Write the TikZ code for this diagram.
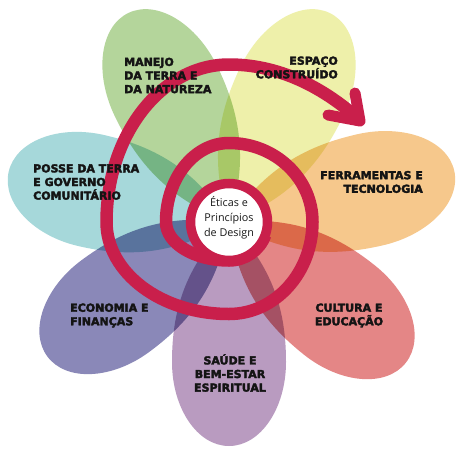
\documentclass[tikz,border=0pt]{standalone}
\usepackage{fontspec}
\setmainfont{DejaVu Sans}
\newfontfamily\lblfont{DejaVu Sans}[UprightFont={* Bold}, UprightFeatures={FakeBold=3}]
\newfontfamily\ctrfont{Open Sans}
\definecolor{pGreen}{HTML}{B4D59B}
\definecolor{pYellow}{HTML}{EEF0AA}
\definecolor{pOrange}{HTML}{F6C88C}
\definecolor{pRed}{HTML}{E48686}
\definecolor{pPurple}{HTML}{B99BC0}
\definecolor{pBlue}{HTML}{8A88B8}
\definecolor{pTeal}{HTML}{A6D8DA}
\definecolor{spiralRed}{HTML}{C91F4B}
\tikzset{
  lbl/.style={font=\lblfont\fontsize{11}{13.6}\selectfont, text=black!92, inner sep=0pt},
  ctrtext/.style={font=\ctrfont\fontsize{10.8}{15}\selectfont, text=black!90, inner sep=0pt, align=center},
  spiralline/.style={draw=spiralRed, line width=12.5pt},
  arrowhd/.style={draw=spiralRed, line width=11pt, line cap=round, line join=round},
  centerring/.style={draw=spiralRed, fill=white, line width=9.5pt}
}
% colour, screen angle, length
\newcommand{\flowerpetal}[3]{%
  \pgfmathsetmacro{\petm}{0.625*#3}%
  \pgfmathsetmacro{\peta}{\petm/3}%
  \pgfmathsetmacro{\petb}{\petm*0.657}%
  \pgfmathsetmacro{\petc}{\petm+0.552*(#3-\petm)}%
  \begin{scope}[shift={(C)}, rotate=-#2]
    \fill[#1] (0,0) .. controls (\peta,46) and (\petb,57) .. (\petm,57)
      .. controls (\petc,57) and (#3,31.5) .. (#3,0)
      .. controls (#3,-31.5) and (\petc,-57) .. (\petm,-57)
      .. controls (\petb,-57) and (\peta,-46) .. (0,0) -- cycle;
  \end{scope}}
\begin{document}
\begin{tikzpicture}[x=1pt,y=-1pt]
\useasboundingbox (0,0) rectangle (460,450);
\fill[white] (0,0) rectangle (460,450);
\coordinate (C) at (229,222);
% petals
\begin{scope}[blend mode=multiply]
  \flowerpetal{pPurple}{90}{224}
  \flowerpetal{pBlue}{143.5}{226}
  \flowerpetal{pTeal}{192.86}{226}
  \flowerpetal{pGreen}{244.29}{232}
  \flowerpetal{pYellow}{295.71}{232}
  \flowerpetal{pOrange}{347.14}{231}
  \flowerpetal{pRed}{38.57}{226}
\end{scope}
% spiral
\draw[spiralline] (C) ++(20:38.5) arc[start angle=20, end angle=90, radius=38.5]
  arc[start angle=90, end angle=180, x radius=63, y radius=38.5]
  arc[start angle=180, end angle=270, x radius=63, y radius=79]
  arc[start angle=270, end angle=360, x radius=83.5, y radius=79]
  arc[start angle=0, end angle=90, x radius=83.5, y radius=92]
  arc[start angle=90, end angle=180, x radius=122.5, y radius=92]
  arc[start angle=180, end angle=270, x radius=122.5, y radius=157.5]
  .. controls (279,64.5) and (321,87) .. (354,115);
\coordinate (tip) at (360,121);
\coordinate (armA) at (355,93);
\coordinate (armB) at (328,115);
\draw[arrowhd] (armA) -- (tip) -- (armB);
% center
\draw[centerring] (C) circle[radius=38.5];
\node[ctrtext] (ctr) at (229,218) {Éticas e\\Princípios\\de Design};
% labels
\node[lbl, anchor=west, align=left] (manejo) at (124,75.5) {MANEJO\\DA TERRA E\\DA NATUREZA};
\node[lbl, anchor=east, align=right] (espaco) at (338,67.5) {ESPAÇO\\CONSTRUÍDO};
\node[lbl, anchor=east, align=right] (ferr) at (423,182) {FERRAMENTAS E\\TECNOLOGIA};
\node[lbl, anchor=west, align=left] (posse) at (33,182) {POSSE DA TERRA\\E GOVERNO\\COMUNITÁRIO};
\node[lbl, anchor=west, align=left] (econ) at (70,315.5) {ECONOMIA E\\FINANÇAS};
\node[lbl, align=center] (cult) at (349,315.5) {CULTURA E\\EDUCAÇÃO};
\node[lbl, align=center] (saude) at (230,373) {SAÚDE E\\BEM-ESTAR\\ESPIRITUAL};
\end{tikzpicture}
\end{document}
